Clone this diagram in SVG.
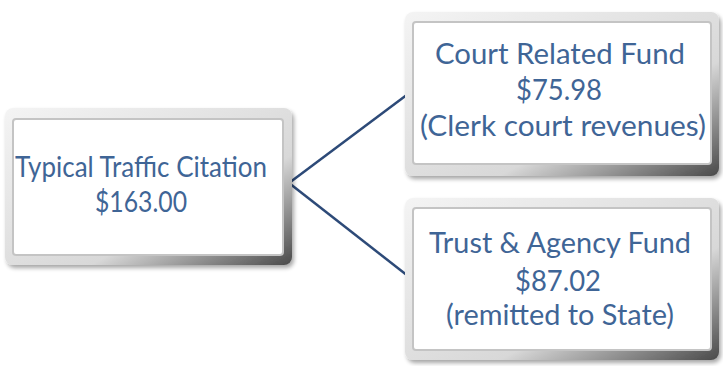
<svg xmlns="http://www.w3.org/2000/svg" width="723" height="366" viewBox="0 0 723 366">
<defs>
<linearGradient id="bev" x1="0" y1="0" x2="1" y2="1">
<stop offset="0" stop-color="#f4f4f4"/>
<stop offset="0.65" stop-color="#d8d8d8"/>
<stop offset="1" stop-color="#4a4a4a"/>
</linearGradient>
<filter id="sh" x="-5%" y="-5%" width="112%" height="115%">
<feGaussianBlur in="SourceAlpha" stdDeviation="2"/>
<feOffset dx="2" dy="3"/>
<feComponentTransfer><feFuncA type="linear" slope="0.35"/></feComponentTransfer>
<feMerge><feMergeNode/><feMergeNode in="SourceGraphic"/></feMerge>
</filter>
</defs>
<style>
.frame{fill:url(#bev);filter:url(#sh)}
.inner{fill:#ffffff;stroke:#c4c4c4;stroke-width:2}
.t{font-family:Lato,"Open Sans",sans-serif;font-size:29px;fill:#3f6596;text-anchor:middle}
.c{fill:none;stroke:#2d4a78;stroke-width:2.5}
</style>
<rect width="723" height="366" fill="#ffffff"/>
<g id="connectors">
<line class="c" x1="289" y1="183" x2="408" y2="94"/>
<line class="c" x1="289" y1="183" x2="408" y2="276"/>
</g>
<g id="citation">
<rect class="frame" x="5" y="108" width="287" height="157" rx="8"/>
<rect class="inner" x="13" y="119" width="270" height="136" rx="3"/>
<text class="t" x="141" y="177" textLength="252" lengthAdjust="spacingAndGlyphs">Typical Traffic Citation</text>
<text class="t" x="141" y="212" textLength="92" lengthAdjust="spacingAndGlyphs">$163.00</text>
</g>
<g id="court">
<rect class="frame" x="405" y="12" width="314" height="164" rx="8"/>
<rect class="inner" x="413" y="22" width="298" height="142" rx="3"/>
<text class="t" x="560" y="64" textLength="250" lengthAdjust="spacingAndGlyphs">Court Related Fund</text>
<text class="t" x="559" y="100" textLength="86" lengthAdjust="spacingAndGlyphs">$75.98</text>
<text class="t" x="563" y="136" textLength="286" lengthAdjust="spacingAndGlyphs">(Clerk court revenues)</text>
</g>
<g id="trust">
<rect class="frame" x="405" y="198" width="314" height="162" rx="8"/>
<rect class="inner" x="413" y="208" width="298" height="142" rx="3"/>
<text class="t" x="560" y="253" textLength="262" lengthAdjust="spacingAndGlyphs">Trust &amp; Agency Fund</text>
<text class="t" x="558" y="291" textLength="86" lengthAdjust="spacingAndGlyphs">$87.02</text>
<text class="t" x="560" y="325" textLength="228" lengthAdjust="spacingAndGlyphs">(remitted to State)</text>
</g>
</svg>
